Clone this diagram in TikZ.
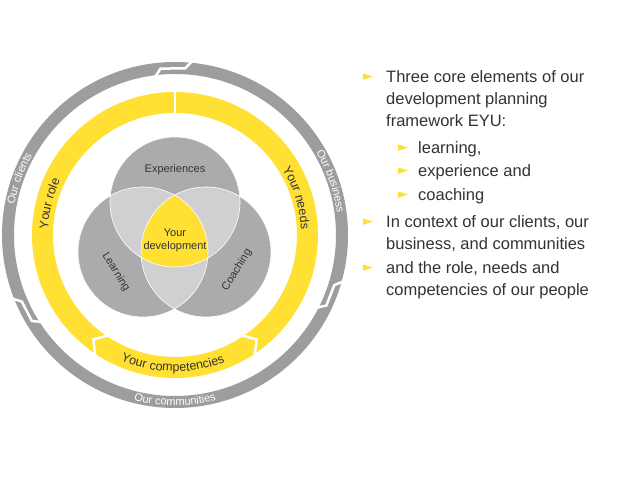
\documentclass[tikz,border=0pt]{standalone}
\usepackage{fontspec}
\setmainfont{Liberation Sans}
\newfontfamily\djv{DejaVu Sans}
\usetikzlibrary{decorations.text}
\definecolor{eyy}{HTML}{FFE033}
\definecolor{ring}{HTML}{9D9D9F}
\definecolor{vg}{HTML}{ABABAD}
\definecolor{vl}{HTML}{D0D0D2}
\definecolor{txt}{HTML}{333333}
\begin{document}
\begin{tikzpicture}[x=1pt,y=1pt,
  cut/.style={white,line width=2.5pt,line join=miter},
  rt/.style={decorate,decoration={text along path,text align=center,text color=white,
     text={|\fontsize{11}{10}\selectfont|#1}}},
  yt/.style={decorate,decoration={text along path,text align=center,text color=txt,
     text={|\fontsize{12.5}{12}\selectfont|#1}}},
  bl/.style={anchor=base west,font=\fontsize{16.5}{22}\selectfont,text=txt,inner sep=0pt},
  bu/.style={anchor=base west,inner sep=0pt,font=\djv\fontsize{13}{13}\selectfont,text=eyy}]
\useasboundingbox (0,0) rectangle (638,478);
\fill[white] (0,0) rectangle (638,478);
\begin{scope}[shift={(175,243)}]
  \fill[ring,even odd rule] (0,0) circle (173) (0,0) circle (161);
  \fill[eyy,even odd rule] (0,0) circle (143) (0,0) circle (122);
  % cuts
  \draw[cut] (90:146) -- (90:119);
  \draw[cut] (237:146) -- (232:132.5) -- (237:119);
  \draw[cut] (303:146) -- (308:132.5) -- (303:119);
  \draw[cut] (84:176) -- (86.5:167) -- (95:167) -- (97.5:158);
  \draw[cut] (201:176) -- (203.5:167) -- (211:167) -- (213.5:158);
  \draw[cut] (-15:176) -- (-17.5:167) -- (-25:167) -- (-27.5:158);
  % ring texts
  \path[rt={Our clients}] (195:163.5) arc[start angle=195,end angle=125,radius=163.5];
  \path[yt={Your role}] (201:127) arc[start angle=201,end angle=131,radius=127];
  \path[rt={Our business}] (54:163.5) arc[start angle=54,end angle=-16,radius=163.5];
  \path[yt={Your needs}] (52:126) arc[start angle=52,end angle=-18,radius=126];
  \path[rt={Our communities}] (225:170.5) arc[start angle=225,end angle=315,radius=170.5];
  \path[yt={Your competencies}] (225:136.5) arc[start angle=225,end angle=313,radius=136.5];
\end{scope}
% Venn
\coordinate (E) at (175,276);
\coordinate (L) at (143,226);
\coordinate (C) at (206,226);
\fill[vg] (E) circle (65) (L) circle (65) (C) circle (65);
\begin{scope}\clip (E) circle (65); \fill[vl] (L) circle (65) (C) circle (65);\end{scope}
\begin{scope}\clip (L) circle (65); \fill[vl] (C) circle (65);\end{scope}
\begin{scope}\clip (E) circle (65); \clip (L) circle (65); \fill[eyy] (C) circle (65);\end{scope}
\draw[white,line width=0.6pt] (E) circle (65) (L) circle (65) (C) circle (65);
\node[font=\fontsize{11}{10}\selectfont,text=txt] (ex) at (175,308) {Experiences};
\node[font=\fontsize{11}{13}\selectfont,text=txt,align=center] (yd) at (175,238) {Your\\development};
\node[font=\fontsize{11}{10}\selectfont,text=txt,rotate=-58] (le) at (116,206) {Learning};
\node[font=\fontsize{11}{10}\selectfont,text=txt,rotate=58] (co) at (237,208) {Coaching};
% bullets
\node[bu] (b1) at (363,397) {►};
\node[bl] (t1a) at (386,395) {Three core elements of our};
\node[bl] (t1b) at (386,373) {development planning};
\node[bl] (t1c) at (386,351) {framework EYU:};
\node[bu] (b2) at (398,326) {►};
\node[bl] (t2) at (418,324) {learning,};
\node[bu] (b3) at (398,303) {►};
\node[bl] (t3) at (418,301) {experience and};
\node[bu] (b4) at (398,279) {►};
\node[bl] (t4) at (418,277) {coaching};
\node[bu] (b5) at (363,252) {►};
\node[bl] (t5a) at (386,250) {In context of our clients, our};
\node[bl] (t5b) at (386,228) {business, and communities};
\node[bu] (b6) at (363,206) {►};
\node[bl] (t6a) at (386,204) {and the role, needs and};
\node[bl] (t6b) at (386,182) {competencies of our people};
\end{tikzpicture}
\end{document}
